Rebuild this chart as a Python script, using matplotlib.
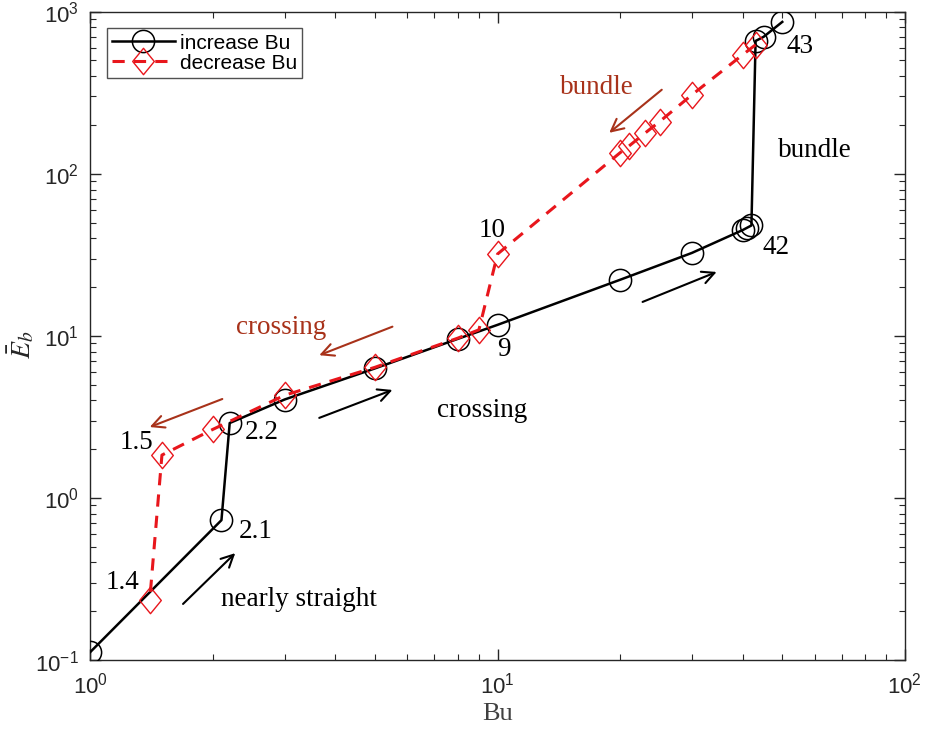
import matplotlib
matplotlib.use("Agg")
import matplotlib.pyplot as plt
from matplotlib.path import Path
from matplotlib.ticker import LogLocator, NullFormatter, FixedLocator, FixedFormatter

plt.rcParams['mathtext.fontset'] = 'custom'
plt.rcParams['mathtext.rm'] = 'Liberation Sans'
plt.rcParams['mathtext.it'] = 'Liberation Sans:italic'

# increase Bu (black circles)
bu_inc = [1, 2.1, 2.2, 3, 5, 8, 10, 20, 30, 40, 41, 42, 43, 45, 50]
eb_inc = [0.112, 0.73, 2.9, 4.05, 6.3, 9.6, 11.7, 22.2, 32.5, 45, 46.5, 48, 660, 700, 865]

# decrease Bu (red diamonds)
bu_dec = [43, 40, 30, 25, 23, 21, 20, 10, 9, 8, 5, 3, 2, 1.5, 1.4]
eb_dec = [625, 543, 307, 210, 178, 148, 135, 32, 10.9, 9.7, 6.4, 4.3, 2.65, 1.84, 0.235]

# point labels
lbl_text = ["1.4", "1.5", "2.1", "2.2", "9", "10", "42", "43"]
lbl_x = [1.09, 1.18, 2.31, 2.39, 10.0, 9.0, 44.8, 51.3]
lbl_y = [0.303, 2.21, 0.617, 2.52, 8.2, 45, 35, 608]

xtick_vals = [1, 10, 100]
xtick_lbls = ["$10^0$", "$10^1$", "$10^2$"]
ytick_vals = [0.1, 1, 10, 100, 1000]
ytick_lbls = ["$10^{-1}$", "$10^0$", "$10^1$", "$10^2$", "$10^3$"]

brown = '#a8321a'
serif = 'Liberation Serif'
fs = 19.5

diamond = Path([(0, 1), (0.82, 0), (0, -1), (-0.82, 0), (0, 1)],
               [Path.MOVETO, Path.LINETO, Path.LINETO, Path.LINETO, Path.CLOSEPOLY])

fig = plt.figure(figsize=(9.3, 7.31), dpi=100)
ax = fig.add_axes([0.097, 0.097, 0.876, 0.887])
ax.set_xscale('log')
ax.set_yscale('log')
ax.set_xlim(1, 100)
ax.set_ylim(0.1, 1000)

ax.plot(bu_inc, eb_inc, '-', color='black', lw=1.8, marker='o', ms=16,
        mfc='none', mec='black', mew=1.1, label='increase Bu', zorder=3)
ax.plot(bu_dec, eb_dec, '--', color='#e8161c', lw=2.2, dashes=(4, 3), marker=diamond, ms=19,
        mfc='none', mec='#e8161c', mew=1.0, label='decrease Bu', zorder=4)

for t, x, y in zip(lbl_text, lbl_x, lbl_y):
    ax.text(x, y, t, fontsize=fs, family=serif, ha='left', va='center')

# black annotations
ax.text(2.1, 0.235, 'nearly straight', fontsize=fs, family=serif, ha='left', va='center')
ax.text(7.1, 3.45, 'crossing', fontsize=fs, family=serif, ha='left', va='center')
ax.text(48.7, 140, 'bundle', fontsize=fs, family=serif, ha='left', va='center')

ak = dict(arrowstyle='->', color='black', lw=1.5, mutation_scale=22, shrinkA=0, shrinkB=0)
ax.annotate('', xy=(2.27, 0.457), xytext=(1.69, 0.222), arrowprops=ak)
ax.annotate('', xy=(5.52, 4.64), xytext=(3.65, 3.12), arrowprops=ak)
ax.annotate('', xy=(34.5, 24.8), xytext=(22.7, 16.2), arrowprops=ak)

# brown annotations
ax.text(17.5, 340, 'bundle', fontsize=fs, family=serif, color=brown, ha='center', va='center')
ax.text(2.95, 11.2, 'crossing', fontsize=fs, family=serif, color=brown, ha='center', va='center')
bk = dict(arrowstyle='->', color=brown, lw=1.5, mutation_scale=22, shrinkA=0, shrinkB=0)
ax.annotate('', xy=(18.8, 179), xytext=(25.3, 330), arrowprops=bk)
ax.annotate('', xy=(3.65, 7.6), xytext=(5.52, 11.4), arrowprops=bk)
ax.annotate('', xy=(1.40, 2.74), xytext=(2.11, 4.08), arrowprops=bk)

ax.xaxis.set_major_locator(FixedLocator(xtick_vals))
ax.xaxis.set_major_formatter(FixedFormatter(xtick_lbls))
ax.yaxis.set_major_locator(FixedLocator(ytick_vals))
ax.yaxis.set_major_formatter(FixedFormatter(ytick_lbls))
ax.xaxis.set_minor_locator(LogLocator(base=10, subs=range(2, 10)))
ax.yaxis.set_minor_locator(LogLocator(base=10, subs=range(2, 10)))
ax.xaxis.set_minor_formatter(NullFormatter())
ax.yaxis.set_minor_formatter(NullFormatter())
ax.tick_params(which='both', direction='in', top=True, right=True, colors='#262626')
ax.tick_params(which='major', length=8, width=1.0, labelsize=16, pad=8)
ax.tick_params(which='minor', length=4, width=0.8)
for s in ax.spines.values():
    s.set_color('#262626')
    s.set_linewidth(1.0)

ax.set_xlabel('Bu', fontsize=19, family=serif, color='#404040')
ax.xaxis.set_label_coords(0.5, -0.066)
ax.set_ylabel(r'$\bar{E}_b$', fontsize=20, math_fontfamily='stix', color='#262626')
ax.yaxis.set_label_coords(-0.066, 0.486)

leg = ax.legend(loc='upper left', frameon=True, fancybox=False,
                edgecolor='#262626', borderpad=0.25, labelspacing=0.05, handlelength=3.0,
                handletextpad=0.25, borderaxespad=0.8, prop={'family': 'Liberation Sans', 'size': 15})
leg.get_frame().set_linewidth(1.0)

fig.savefig('out.png', dpi=100)
